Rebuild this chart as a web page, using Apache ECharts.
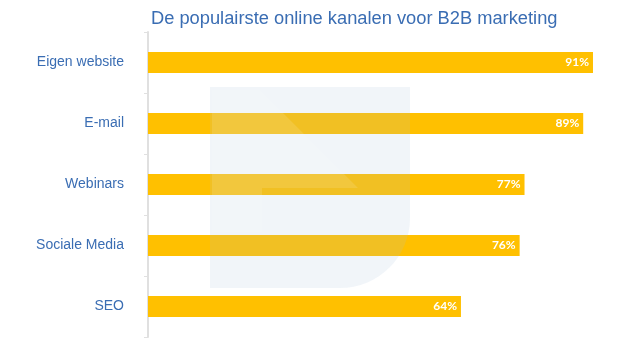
<!DOCTYPE html>
<html><head><meta charset="utf-8">
<script src="https://cdn.jsdelivr.net/npm/echarts@6/dist/echarts.min.js"></script>
<style>html,body{margin:0;padding:0;background:#fff}#c{width:640px;height:343px}</style>
</head><body><div id="c"></div>
<script>
const categories = ["Eigen website", "E-mail", "Webinars", "Sociale Media", "SEO"];
const values = [91, 89, 77, 76, 64];
const titleText = "De populairste online kanalen voor B2B marketing";

const chart = echarts.init(document.getElementById('c'));
chart.setOption({
  animation: false,
  backgroundColor: '#fff',
  title: {
    text: titleText, left: 146, top: 5,
    textStyle: { fontFamily: 'Liberation Sans, Arial', fontSize: 18.3, fontWeight: 'normal', color: '#3a6db3' }
  },
  grid: { left: 148, right: 3, top: 32, bottom: 6, containLabel: false },
  xAxis: { type: 'value', min: 0, max: 100, show: false },
  yAxis: {
    type: 'category', data: categories, inverse: true,
    axisLine: { show: true, lineStyle: { color: '#e0e0e0', width: 2 } },
    axisTick: { show: true, length: 4, lineStyle: { color: '#e0e0e0' } },
    axisLabel: { margin: 24, fontFamily: 'Liberation Sans, Arial', fontSize: 14, color: '#3a6db3' },
    splitLine: { show: false }
  },
  series: [{
    type: 'bar', data: values, barWidth: 21,
    itemStyle: { color: '#ffc000' },
    label: {
      show: true, position: 'insideRight', offset: [1, 0], formatter: '{c}%',
      color: '#fff', fontFamily: 'Lato, Liberation Sans', fontWeight: 'bold', fontSize: 12
    }
  }],
  graphic: [{
    type: 'rect', z: 100, silent: true,
    shape: { x: 210, y: 87, width: 200, height: 201, r: [0, 0, 70, 0] },
    style: { fill: 'rgba(170,190,215,0.16)' }
  }, {
    type: 'polygon', z: 101, silent: true,
    shape: { points: [[212,90],[260,90],[358,188],[262,188],[262,232],[212,232]] },
    style: { fill: 'rgba(255,255,255,0.12)' }
  }]
});
</script></body></html>
